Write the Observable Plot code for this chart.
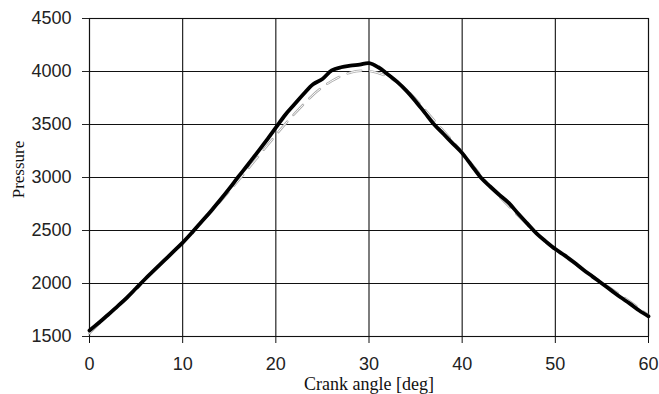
<!DOCTYPE html>
<html>
<head>
<meta charset="utf-8">
<script src="https://cdn.jsdelivr.net/npm/d3@7"></script>
<script src="https://cdn.jsdelivr.net/npm/@observablehq/plot@0.6"></script>
<style>
  html, body { margin: 0; padding: 0; background: #fff; }
  #chart { width: 659px; height: 394px; }
</style>
</head>
<body>
<div id="chart"></div>
<script>
// Measured pressure trace (thick black)
const measuredAngle = [0,1,2,3,4,5,6,7,8,9,10,11,12,13,14,15,16,17,18,19,20,21,22,23,24,25,26,27,28,29,30,31,32,33,34,35,36,37,38,39,40,41,42,43,44,45,46,47,48,49,50,51,52,53,54,55,56,57,58,59,60];
const measuredPressure = [1557,1630,1705,1785,1865,1955,2045,2130,2215,2300,2385,2480,2580,2680,2785,2895,3010,3120,3235,3350,3470,3590,3690,3790,3880,3930,4010,4040,4055,4065,4078,4040,3975,3905,3820,3720,3610,3500,3410,3320,3230,3115,3000,2915,2835,2760,2660,2565,2470,2395,2325,2265,2200,2130,2065,2000,1935,1870,1810,1745,1690];

// Model / fitted trace (thin light dashed)
const modelAngle = [0,5,10,15,20,22,24,26,28,30,32,34,36,38,40,42,44,46,48,50,52,54,56,58,60];
const modelPressure = [1530,1960,2390,2870,3400,3600,3780,3910,3990,4005,3950,3830,3640,3440,3240,3020,2820,2640,2470,2320,2190,2070,1950,1830,1700];

const xTicks = [0,10,20,30,40,50,60];
const yTicks = [1500,2000,2500,3000,3500,4000,4500];
const xTitle = "Crank angle [deg]";
const yTitle = "Pressure";

const measured = measuredAngle.map((a, i) => ({angle: a, p: measuredPressure[i]}));
const model = modelAngle.map((a, i) => ({angle: a, p: modelPressure[i]}));

const sans = "Liberation Sans, Arial, sans-serif";
const serif = "'Times New Roman', 'Liberation Serif', serif";

const chart = Plot.plot({
  width: 659,
  height: 394,
  marginLeft: 89,
  marginRight: 11,
  marginTop: 18,
  marginBottom: 58,
  style: {background: "#fff", color: "#000"},
  x: {domain: [0, 60], ticks: xTicks},
  y: {domain: [1500, 4500], ticks: yTicks},
  marks: [
    Plot.gridX(xTicks, {stroke: "#111", strokeOpacity: 1, strokeWidth: 1.1}),
    Plot.gridY(yTicks, {stroke: "#111", strokeOpacity: 1, strokeWidth: 1.1}),
    Plot.frame({stroke: "#111", strokeWidth: 1.1}),
    Plot.axisX(xTicks, {label: null, tickFormat: d3.format("d"), tickSize: 7, tickPadding: 14, fontSize: 18, fontFamily: sans, stroke: "#111", color: "#222"}),
    Plot.axisY(yTicks, {label: null, tickFormat: d3.format("d"), tickSize: 7, tickPadding: 11, fontSize: 18, fontFamily: sans, color: "#222"}),
    Plot.line(model, {x: "angle", y: "p", curve: "natural", stroke: "#aaa", strokeWidth: 2.4, strokeDasharray: "14,9"}),
    Plot.line(model, {x: "angle", y: "p", curve: "natural", stroke: "#fff", strokeWidth: 1, strokeDasharray: "14,9"}),
    Plot.line(measured, {x: "angle", y: "p", curve: "catmull-rom", stroke: "#000", strokeWidth: 3.8, strokeLinejoin: "round"}),
    Plot.text([xTitle], {text: d => d, frameAnchor: "bottom", textAnchor: "middle", lineAnchor: "middle", dy: 48, fontSize: 18, fontFamily: serif, fill: "#111"}),
    Plot.text([yTitle], {text: d => d, frameAnchor: "left", textAnchor: "middle", lineAnchor: "middle", rotate: -90, dx: -71, dy: -8, fontSize: 17, fontFamily: serif, fill: "#111"})
  ]
});
document.getElementById("chart").appendChild(chart);
</script>
</body>
</html>
